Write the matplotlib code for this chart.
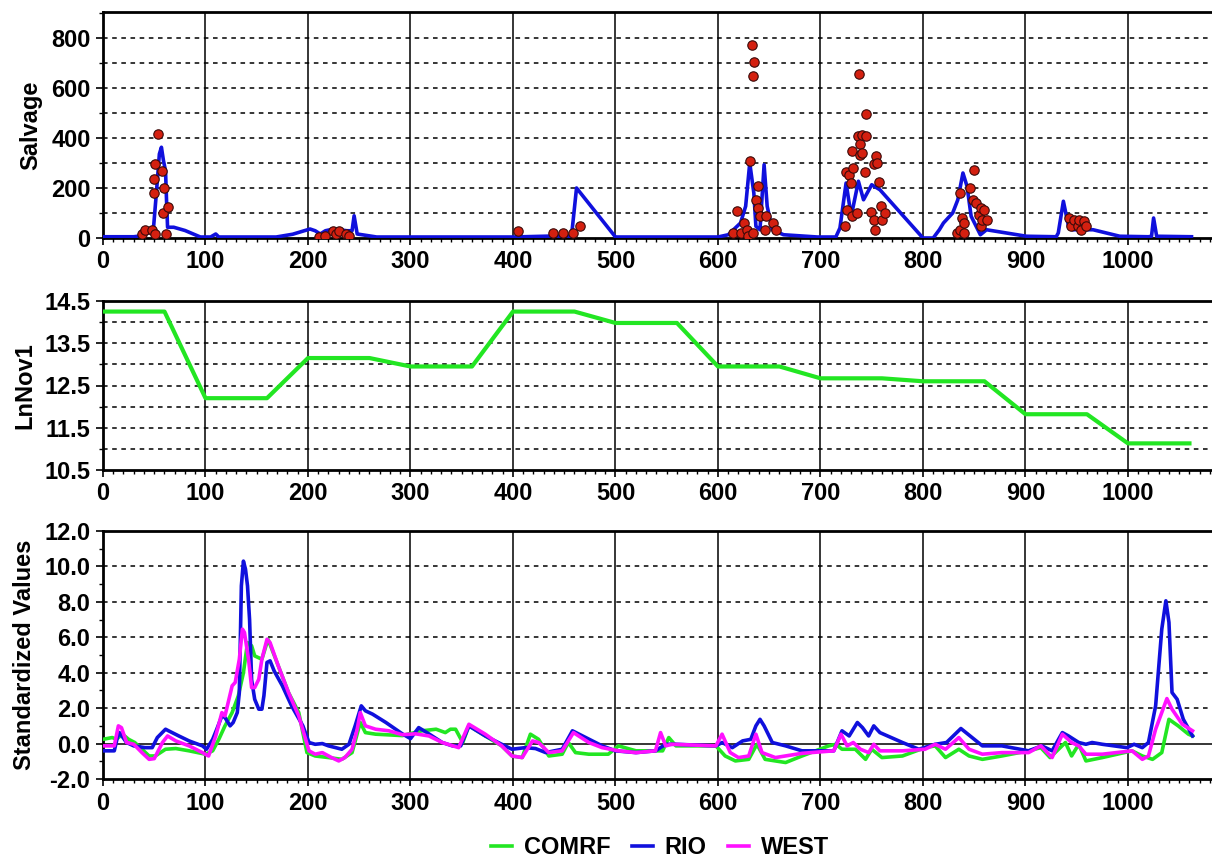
import matplotlib
matplotlib.use("Agg")
import matplotlib.pyplot as plt
from matplotlib.ticker import MultipleLocator, FormatStrFormatter

# ---------------- data ----------------
salv_x = [0, 30, 34, 40, 49, 52, 55, 57, 59, 61, 62, 63, 69, 80, 95, 105, 110, 113, 120, 169,
          185, 202, 207, 212, 217, 225, 238, 243, 245, 248, 267, 306, 400, 440, 455, 457, 462, 500,
          600, 610, 622, 627, 631, 635, 637, 641, 645, 648, 653, 664, 697, 715, 719, 725, 730, 737,
          742, 750, 758, 800, 810, 816, 820, 829, 834, 839, 843, 847, 856, 862, 901, 930, 932, 937,
          942, 946, 966, 992, 1020, 1023, 1025, 1028, 1062]
salv_y = [5, 5, 7, 15, 27, 176, 336, 363, 309, 269, 149, 43, 43, 30, 4, 4, 16, 4, 4, 4,
          15, 36, 29, 16, 29, 36, 29, 29, 89, 16, 4, 4, 4, 8, 8, 4, 200, 4,
          4, 13, 60, 127, 300, 180, 47, 33, 293, 127, 33, 13, 4, 4, 40, 220, 87, 227,
          153, 213, 193, 0, 0, 33, 60, 100, 153, 260, 207, 87, 13, 33, 7, 5, 20, 147,
          47, 33, 33, 7, 5, 7, 80, 7, 5]

dot_x = [38, 41, 48, 50, 50, 51, 51, 54, 58, 59, 60, 61, 63,
         211, 217, 224, 227, 230, 237, 240,
         405, 439, 449, 459, 465,
         615, 619, 622, 625, 628, 629, 631, 633, 634, 634, 635, 637, 639, 639, 641, 646, 647, 654, 657,
         724, 725, 726, 728, 730, 731, 731, 732, 736, 737, 738, 739, 739, 741, 741, 743, 744, 744,
         749, 752, 752, 753, 754, 755, 757, 759, 760, 763,
         833, 836, 836, 838, 840, 840, 846, 849, 850, 852, 855, 857, 857, 858, 860, 862,
         942, 944, 947, 951, 952, 954, 957, 959]
dot_y = [16, 31, 31, 236, 179, 296, 16, 417, 267, 100, 200, 16, 124,
         3, 9, 29, 16, 29, 16, 9,
         27, 20, 20, 20, 47,
         20, 107, 20, 60, 33, 7, 309, 773, 647, 20, 704, 153, 207, 120, 87, 33, 87, 60, 33,
         47, 263, 113, 253, 220, 347, 87, 280, 100, 407, 657, 377, 333, 413, 340, 263, 497, 407,
         103, 73, 297, 33, 327, 300, 223, 127, 73, 100,
         20, 180, 33, 80, 60, 20, 200, 153, 271, 140, 93, 120, 47, 73, 113, 73,
         80, 47, 73, 47, 73, 33, 67, 47]

nov_x = [0, 60, 100, 160, 200, 260, 300, 360, 400, 460, 500, 560, 600, 660, 700, 760,
         800, 860, 900, 960, 1000, 1060]
nov_y = [14.25, 14.25, 12.2, 12.2, 13.15, 13.15, 12.95, 12.95, 14.25, 14.25, 13.98, 13.98,
         12.95, 12.95, 12.67, 12.67, 12.6, 12.6, 11.82, 11.82, 11.13, 11.13]

com_x = [0, 9, 13, 19, 25, 31, 38, 45, 51, 61, 71, 84, 100, 107, 113, 119, 126, 132, 137, 141,
         145, 148, 155, 161, 171, 181, 191, 199, 207, 220, 233, 243, 251, 256, 266, 292, 311, 325, 334, 339,
         344, 351, 357, 373, 389, 399, 409, 417, 425, 435, 448, 454, 461, 474, 493, 503, 520, 546, 552, 559,
         598, 607, 617, 630, 638, 646, 666, 682, 708, 715, 721, 734, 744, 750, 760, 780, 802, 812, 822, 835,
         845, 858, 877, 903, 915, 924, 939, 945, 952, 959, 975, 1004, 1014, 1024, 1033, 1040, 1049, 1059, 1063]
com_y = [0.24, 0.34, 0.24, 0.53, 0.24, 0.06, -0.32, -0.7, -0.7, -0.32,
         -0.28, -0.41, -0.6, -0.41, 0.24, 1.0, 1.75, 2.69, 4.0, 5.7,
         5.52, 4.95, 4.76, 5.89, 4.39, 2.88, 1.75, -0.51, -0.7, -0.79,
         -0.89, -0.51, 1.19, 0.62, 0.53, 0.45, 0.72, 0.81, 0.62, 0.81,
         0.81, 0.06, 1.0, 0.43, -0.13, -0.7, -0.79, 0.53, 0.24, -0.7,
         -0.6, 0.06, -0.51, -0.6, -0.6, -0.13, -0.41, -0.41, 0.34, -0.13,
         -0.13, -0.7, -0.98, -0.89, -0.04, -0.89, -1.07, -0.7, -0.13, -0.04,
         -0.32, -0.32, -0.89, -0.32, -0.79, -0.7, -0.23, -0.13, -0.79, -0.32,
         -0.7, -0.89, -0.7, -0.41, -0.23, -0.79, 0.06, -0.7, -0.04, -0.98,
         -0.79, -0.41, -0.7, -0.89, -0.51, 1.37, 1.0, 0.53, 0.43]

rio_x = [0, 11, 14, 16, 23, 30, 41, 48, 53, 61, 64, 74, 84, 97, 101, 107, 111, 116, 119, 124,
         127, 131, 133, 135, 137, 139, 141, 143, 145, 148, 152, 155, 157, 160, 163, 167, 175, 184, 195, 201,
         207, 214, 220, 227, 233, 240, 246, 252, 256, 263, 276, 292, 300, 308, 316, 331, 341, 349, 357, 373,
         389, 399, 412, 422, 432, 448, 458, 471, 487, 500, 520, 539, 549, 559, 598, 604, 614, 624, 632, 637,
         641, 645, 653, 666, 682, 713, 721, 728, 736, 741, 747, 752, 758, 780, 796, 812, 823, 837, 858, 877,
         903, 916, 926, 936, 942, 952, 959, 965, 975, 999, 1006, 1014, 1020, 1027, 1033, 1037, 1040, 1043,
         1048, 1054, 1063]
rio_y = [-0.41, -0.41, 0.34, 0.62, 0.06, -0.13, -0.23, -0.23, 0.34, 0.81,
         0.72, 0.43, 0.15, -0.13, -0.32, 0.24, 0.81, 1.56, 1.47, 1.0,
         1.19, 1.75, 2.88, 8.9, 10.3, 9.85, 8.9, 7.0, 3.6, 2.5,
         1.94, 1.94, 2.7, 4.58, 4.67, 4.1, 3.26, 2.13, 1.0, 0.06,
         -0.04, 0.0, -0.13, -0.23, -0.32, -0.04, 1.0, 2.13, 1.85, 1.66,
         1.19, 0.55, 0.28, 0.9, 0.62, 0.06, -0.13, -0.13, 1.0, 0.43,
         -0.04, -0.32, -0.23, -0.28, -0.51, -0.32, 0.72, 0.34, -0.13, -0.41,
         -0.51, -0.41, -0.04, -0.04, -0.13, 0.06, -0.23, 0.15, 0.24, 1.0,
         1.37, 1.0, 0.06, -0.13, -0.41, -0.41, 0.72, 0.43, 1.19, 0.9,
         0.43, 1.0, 0.62, 0.06, -0.32, -0.04, 0.06, 0.85, -0.13, -0.13,
         -0.41, -0.13, -0.41, 0.62, 0.43, 0.06, -0.04, 0.06, -0.04, -0.23,
         -0.04, -0.23, 0.06, 2.13, 6.46, 8.06, 6.84, 2.88, 2.5, 1.37,
         0.43]

west_x = [0, 11, 15, 18, 23, 30, 38, 45, 50, 58, 63, 71, 84, 97, 103, 110, 116, 119, 126, 129,
          133, 136, 138, 142, 145, 148, 152, 155, 160, 163, 171, 181, 191, 201, 207, 214, 223, 230, 236, 243,
          248, 251, 256, 266, 279, 292, 305, 318, 331, 347, 357, 373, 389, 399, 409, 419, 425, 435, 448, 459,
          474, 487, 503, 520, 539, 544, 549, 555, 598, 604, 612, 620, 630, 637, 643, 656, 682, 713, 720, 726,
          732, 739, 747, 752, 758, 780, 802, 812, 822, 835, 845, 858, 877, 903, 915, 926, 936, 945, 952, 959,
          975, 1004, 1014, 1020, 1027, 1038, 1043, 1053, 1063]
west_y = [-0.13, -0.13, 1.0, 0.9, 0.06, -0.04, -0.51, -0.89, -0.85, 0.06,
          0.43, 0.15, -0.13, -0.51, -0.7, 0.43, 1.75, 1.56, 3.26, 3.45,
          4.76, 6.46, 6.27, 4.76, 3.16, 3.16, 3.63, 4.76, 5.89, 5.7,
          4.39, 2.88, 1.56, -0.41, -0.6, -0.51, -0.79, -0.98, -0.79, -0.32,
          0.81, 1.75, 1.0, 0.81, 0.72, 0.5, 0.55, 0.43, 0.06, -0.23,
          1.09, 0.53, -0.13, -0.7, -0.79, 0.15, 0.06, -0.51, -0.41, 0.62,
          0.06, -0.23, -0.41, -0.51, -0.41, 0.62, -0.13, -0.04, -0.13, 0.53,
          -0.51, -0.79, -0.7, 0.53, -0.51, -0.79, -0.55, -0.41, 0.53, -0.13,
          0.06, -0.32, -0.51, -0.04, -0.41, -0.41, -0.32, -0.04, -0.32, 0.34,
          -0.32, -0.6, -0.51, -0.51, -0.13, -0.79, 0.53, 0.06, -0.13, -0.6,
          -0.6, -0.41, -0.89, -0.7, 0.81, 2.54, 1.94, 1.09, 0.72]

series_names = ["COMRF", "RIO", "WEST"]
xtick_vals = [0, 100, 200, 300, 400, 500, 600, 700, 800, 900, 1000]

# ---------------- style ----------------
plt.rcParams['font.family'] = ['Liberation Sans', 'DejaVu Sans']
plt.rcParams['font.weight'] = 'bold'
FS = 17
GREEN = '#22e622'
BLUE = '#1010dd'
MAG = '#ff10ff'

W, H = 1212, 860
fig = plt.figure(figsize=(W / 100, H / 100), dpi=100)

LEFT = 103
XMAX = 1082
def add_axes(top_px, bot_px):
    return fig.add_axes([LEFT / W, 1 - bot_px / H, (W - LEFT) / W, (bot_px - top_px) / H])

def style(ax):
    ax.set_xlim(0, XMAX)
    ax.set_xticks(xtick_vals)
    ax.xaxis.set_minor_locator(MultipleLocator(10))
    for x in xtick_vals[1:]:
        ax.axvline(x, color='black', lw=1.1, zorder=1)
    for s in ['top', 'left', 'bottom']:
        ax.spines[s].set_linewidth(2.0)
    ax.spines['right'].set_visible(False)
    ax.tick_params(axis='both', which='major', labelsize=FS, direction='out', length=5, width=1.2, pad=4)
    ax.tick_params(axis='both', which='minor', direction='out', length=3, width=1.0)

def bold_ticks(ax):
    for lab in ax.get_xticklabels() + ax.get_yticklabels():
        lab.set_fontweight('bold')

# ---------------- top panel ----------------
ax1 = add_axes(12, 238)
style(ax1)
ax1.set_ylim(0, 904)
ax1.set_yticks([0, 200, 400, 600, 800])
ax1.yaxis.set_minor_locator(MultipleLocator(100))
for y in range(100, 900, 100):
    ax1.axhline(y, color='black', lw=1.1, ls=(0, (3, 3)), zorder=1)
ax1.plot(salv_x, salv_y, color=BLUE, lw=2.6, zorder=3)
ax1.scatter(dot_x, dot_y, s=46, facecolor='#d42010', edgecolor='#3a0a0a', lw=0.8, zorder=4)
ax1.set_ylabel("Salvage", fontsize=FS, fontweight='bold', labelpad=6)
bold_ticks(ax1)

# ---------------- middle panel ----------------
ax2 = add_axes(301, 470)
style(ax2)
ax2.set_ylim(10.5, 14.5)
ax2.set_yticks([10.5, 11.5, 12.5, 13.5, 14.5])
ax2.yaxis.set_major_formatter(FormatStrFormatter('%.1f'))
ax2.yaxis.set_minor_locator(MultipleLocator(0.5))
for y in [11.0, 11.5, 12.0, 12.5, 13.0, 13.5, 14.0]:
    ax2.axhline(y, color='black', lw=1.1, ls=(0, (3, 3)), zorder=1)
ax2.plot(nov_x, nov_y, color=GREEN, lw=3.0, zorder=3)
ax2.set_ylabel("LnNov1", fontsize=FS, fontweight='bold', labelpad=6)
bold_ticks(ax2)

# ---------------- bottom panel ----------------
ax3 = add_axes(531, 779)
style(ax3)
ax3.set_ylim(-2, 12)
ax3.set_yticks([-2, 0, 2, 4, 6, 8, 10, 12])
ax3.yaxis.set_major_formatter(FormatStrFormatter('%.1f'))
ax3.yaxis.set_minor_locator(MultipleLocator(1))
for y in [2, 4, 6, 8, 10]:
    ax3.axhline(y, color='black', lw=1.1, ls=(0, (3, 3)), zorder=1)
ax3.axhline(0, color='black', lw=1.1, zorder=1)
l1, = ax3.plot(com_x, com_y, color=GREEN, lw=2.6, zorder=3, label=series_names[0])
l2, = ax3.plot(rio_x, rio_y, color=BLUE, lw=2.6, zorder=4, label=series_names[1])
l3, = ax3.plot(west_x, west_y, color=MAG, lw=2.6, zorder=5, label=series_names[2])
ax3.set_ylabel("Standardized Values", fontsize=FS, fontweight='bold', labelpad=6)
bold_ticks(ax3)

fig.legend(handles=[l1, l2, l3], loc='center', bbox_to_anchor=(660 / W, 1 - 848 / H),
           ncol=3, frameon=False, handlelength=0.9, handletextpad=0.5,
           columnspacing=0.9, prop={'weight': 'bold', 'size': FS})

fig.savefig("out.png", dpi=100)
